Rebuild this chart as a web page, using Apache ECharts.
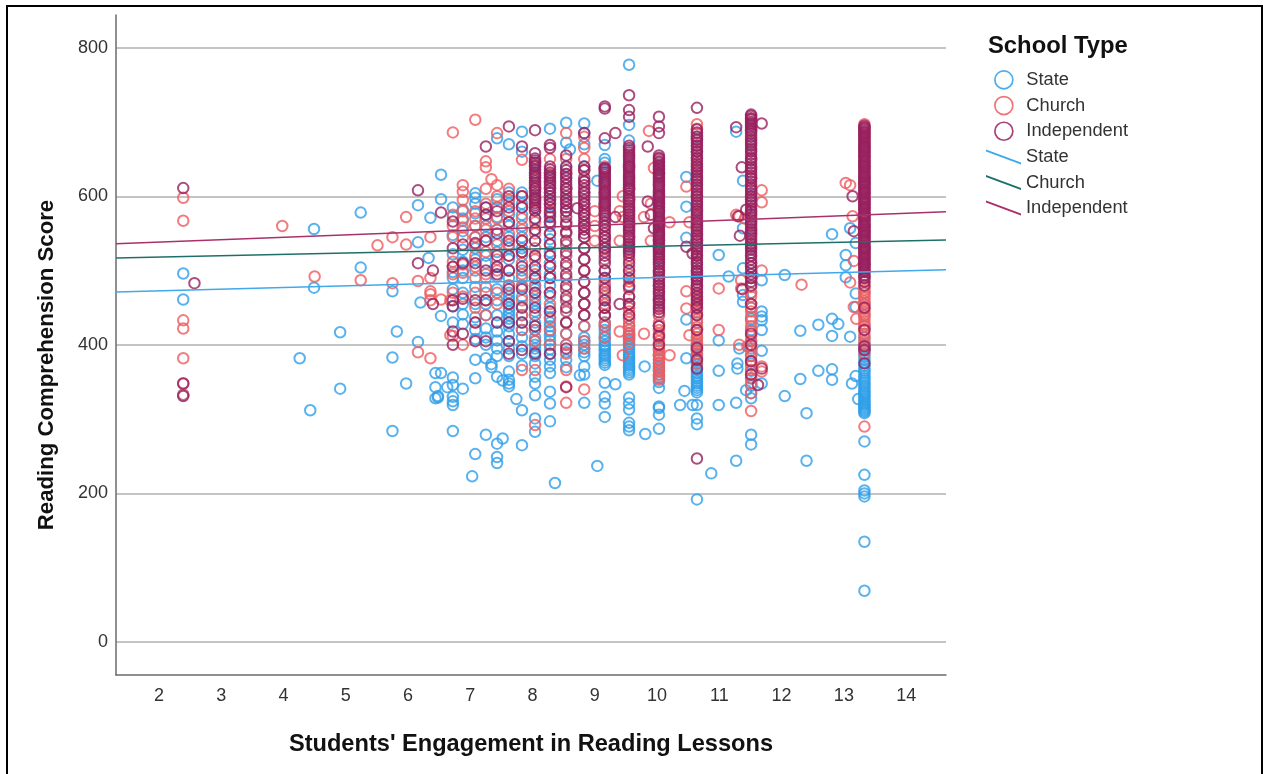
<!DOCTYPE html>
<html><head><meta charset="utf-8">
<script src="https://cdn.jsdelivr.net/npm/echarts@6/dist/echarts.min.js"></script>
<style>html,body{margin:0;padding:0;background:#fff}#c{width:1263px;height:774px}</style></head>
<body><div id="c"></div>
<script>
const yTicks=[0,200,400,600,800];
const xTicks=[2,3,4,5,6,7,8,9,10,11,12,13,14];
const lineXs=[1.31,14.64];
const stateLineY=[471,501];
const churchLineY=[517,541];
const independentLineY=[536,579];

const stateCols=[
[2.39,[496,461,333]],[4.26,[382]],[4.43,[312]],[4.49,[556,477]],[4.91,[417,341]],[5.24,[578,504]],[5.75,[472,383,284]],[5.82,[418]],[5.97,[348]],
[6.16,[588,538,404]],[6.2,[457]],[6.36,[571]],[6.33,[517]],[6.53,[629,596,439,362]],[6.63,[343]],[6.48,[329,331]],[6.44,[362,343,328]],
[6.72,[585,573,548,522,498,490,475,452,430,356,346,330,324,319,284]],
[6.88,[582,570,553,528,512,500,490,470,455,441,428,341]],
[7.08,[604,598,590,577,560,545,530,515,500,478,455,437,420,408,380,355,253]],[7.03,[223]],
[7.25,[585,575,560,545,520,510,490,470,455,440,422,410,400,382,279]],
[7.43,[678,596,585,572,555,540,525,505,492,475,460,440,430,418,406,395,385,357,267,249,241]],[7.52,[352,274]],[7.34,[374,370]],
[7.62,[670,605,590,575,560,545,530,515,500,490,480,470,465,460,455,450,445,440,435,430,425,415,405,395,385,364,353,348,344]],
[7.83,[687,660,605,590,575,560,545,530,520,500,490,478,465,452,440,430,420,410,398,388,372,312,265]],[7.74,[327]],
[8.04,[645,630,612,598,585,570,555,540,520,505,500,490,480,475,470,460,455,445,440,430,425,420,410,405,400,395,390,385,375,357,348,332,301,283]],
[8.28,[691,625,605,590,575,560,542,525,510,495,480,465,450,445,437,430,425,418,412,406,400,394,388,380,371,362,337,321,297]],[8.36,[214]],
[8.54,[699,672,640,625,610,590,580,565,550,535,520,505,490,475,460,445,430,415,400,390,380,370]],[8.6,[663]],[8.76,[359]],
[8.83,[698,685,670,640,620,605,590,575,560,545,530,515,500,470,455,440,425,410,405,400,395,390,385,371,360,322]],[9.04,[621]],[9.04,[237]],
[9.16,[669,650,645,632,620,605,590,575,560,545,530,515,500,490,480,470,460,450,440,430,425,420,415,410,405,400,398,395,392,388,385,382,379,376,373,349,330,321,303]],[9.33,[347]],
[9.55,[777,696,675,640,620,610,595,580,560,545,530,515,500,480,465,450,435,425,415,412,408,405,400,397,394,390,387,384,381,378,375,372,369,366,363,360,329,321,313,295,290,285]],[9.81,[280]],[9.8,[371]],
[10.03,[640,625,600,585,565,548,530,515,498,480,460,440,425,410,395,385,380,375,370,365,360,355,350,342,317,315,306,287]],[10.44,[338]],[10.37,[319]],
[10.47,[626,586,544,382,434]],[10.57,[319]],
[10.64,[680,660,640,622,600,580,560,540,520,500,490,480,465,450,440,430,420,410,400,395,392,388,385,381,378,374,370,366,362,358,355,351,348,345,342,339,336,319,301,293,192]],
[10.87,[227]],[10.99,[521,406,365,319]],[11.15,[492]],[11.27,[687,322,244]],[11.29,[375,368]],[11.32,[395]],[11.38,[621,557,503,467,458]],[11.43,[339]],
[11.51,[690,670,650,625,600,575,555,530,510,490,470,450,435,420,405,395,385,375,365,355,345,335,328,279,266]],
[11.68,[487,445,438,433,420,392,348]],[12.05,[494,331]],[12.3,[419,354]],[12.4,[308,244]],[12.59,[427,365]],[12.81,[549,435,412,367,353]],[12.91,[428]],
[13.03,[521,507,491]],[13.1,[557,411]],[13.13,[348]],[13.19,[537,469,451,358]],[13.23,[327]],
[13.33,[625,610,590,575,560,545,530,510,490,470,455,440,425,410,402,398,395,392,388,384,380,376,372,368,365,362,358,355,352,349,346,343,340,337,335,332,330,327,325,322,320,318,316,314,312,310,308,270,225,204,200,196,135,69]]
];
const churchCols=[
[2.39,[598,567,433,422,382,348,333]],[3.98,[560]],[4.5,[492]],[5.24,[487]],[5.51,[534]],[5.75,[545,483]],[5.97,[572,535]],[6.16,[486,390]],
[6.36,[545,490,472,468,460,382]],[6.53,[461]],[6.68,[413,460]],
[6.72,[686,575,560,545,512,505,495,470,412]],
[6.88,[615,606,595,580,567,558,545,508,497,465,400]],
[7.08,[703,580,570,560,545,535,520,505,490,470,450,430]],
[7.25,[647,639,610,590,570,555,540,525,495,478,460,440]],[7.34,[623]],
[7.43,[685,615,600,585,570,555,535,515,500,470,455]],
[7.62,[610,595,580,565,550,535,520,500,480,455]],
[7.83,[649,600,585,570,555,540,525,510,495,480,460,440,420,366]],
[8.04,[640,625,610,595,580,565,550,530,515,495,480,465,440,420,405,366,292]],
[8.28,[650,630,610,595,580,565,550,535,520,505,490,470,455,435,420,400]],
[8.54,[685,650,630,610,595,580,565,550,535,520,505,490,475,460,445,430,415,400,388,366,344,322]],
[8.83,[680,665,650,635,620,605,590,575,560,545,530,515,500,485,470,455,440,425,405,395,340]],
[9.0,[560,580,540]],[9.16,[640,620,605,590,575,560,545,530,515,500,485,480,470,465,455,450,440,430,425,410]],[9.4,[580,540,418]],[9.45,[386,572,600]],
[9.55,[640,625,610,595,585,575,565,555,545,535,525,515,505,495,485,475,465,455,450,445,440,435,430,425,420,416,412,408,402]],[9.87,[688]],[9.95,[638]],[9.79,[572,415]],[9.9,[590,540]],
[10.03,[630,615,600,590,580,570,560,550,540,530,520,510,500,490,480,470,460,450,440,430,426,420,415,410,405,400,396,392,388,385,380,376,372,368,364,360,357,353]],[10.2,[565,386]],[10.47,[613,472,449]],[10.52,[413,565]],
[10.64,[697,691,684,676,668,660,651,642,634,625,616,608,600,590,582,574,565,556,548,540,530,520,510,498,488,478,468,462,458,452,448,444,440,434,430,424,420,415,410,405,402,398,395,392,388,382,375]],
[10.99,[476,420]],[11.27,[575]],[11.35,[487,476]],[11.32,[400,573]],[11.41,[570]],[11.45,[398]],
[11.51,[704,697,688,675,662,650,638,625,610,595,580,565,550,535,520,505,490,478,470,465,455,450,445,438,432,425,418,412,405,398,392,385,378,372,366,360,355,348,335,311]],
[11.68,[608,592,500,371,364]],[12.32,[481]],[13.03,[618]],[13.1,[484,615]],[13.14,[573]],[13.16,[513,451]],[13.2,[435]],
[13.33,[697,692,686,680,673,666,660,653,646,640,632,625,618,610,604,597,590,583,575,568,560,552,545,538,530,523,515,508,500,492,485,478,474,470,466,463,459,455,451,448,444,440,436,432,428,425,420,415,410,405,400,394,388,290]]
];
const independentCols=[
[2.39,[611,348,331]],[2.57,[483]],[6.16,[608,510]],[6.53,[578]],[6.4,[500,455]],
[6.72,[566,530,505,460,452,418,400]],[6.88,[535,510,462,415]],
[7.08,[537,510,460,430,405]],[7.25,[667,585,575,540,500,460,405]],
[7.43,[580,550,520,505,495,430]],[7.62,[694,600,585,565,540,520,500,475,455,430,405,388]],
[7.83,[667,600,585,540,525,505,475,450,430,393]],
[8.04,[689,658,651,648,645,642,640,636,632,628,625,621,618,614,610,606,602,598,595,591,588,585,581,570,555,540,520,505,490,470,450,425,388]],
[8.28,[669,665,640,636,632,628,625,621,618,614,610,605,600,595,590,585,578,572,565,550,535,520,505,490,470,445,388]],
[8.54,[655,640,635,630,625,620,615,610,605,600,595,590,585,580,572,562,552,540,525,510,495,480,465,450,430,395,343]],
[8.72,[584]],
[8.83,[685,640,635,625,620,615,610,605,600,595,590,585,580,575,570,565,560,555,550,545,530,515,500,485,470,455,440]],
[9.16,[721,718,678,638,637,635,632,629,626,623,620,617,614,611,608,605,602,599,596,593,590,587,584,581,578,574,570,565,560,555,550,545,540,535,530,525,520,510,500,490,475,460,450,440]],[9.33,[685]],[9.33,[572]],[9.4,[455]],
[9.55,[736,716,707,668,665,662,659,656,653,650,647,644,641,638,635,632,629,626,623,620,617,614,611,608,604,600,596,592,588,584,580,576,572,568,564,560,556,552,548,544,540,536,532,528,524,520,510,500,490,478,465,455,440]],
[9.85,[667,593]],[9.9,[575]],[9.95,[557]],
[10.03,[707,694,685,655,652,650,647,645,642,640,637,635,632,630,627,624,621,618,615,612,609,606,603,600,597,594,591,588,585,582,579,576,573,570,567,564,561,558,555,552,549,546,543,540,537,534,531,528,525,522,519,516,512,508,504,500,496,492,488,484,480,476,472,468,464,460,456,452,448,444,425,412,400]],
[10.47,[532]],[10.57,[523]],
[10.64,[719,690,686,680,676,672,668,664,660,656,652,648,644,640,636,632,628,624,620,616,612,608,604,600,596,592,588,584,580,576,572,568,564,560,556,552,548,544,540,536,532,528,524,520,516,512,508,504,500,496,492,488,484,480,475,470,465,460,455,450,440,420,396,380,368,247]],
[11.27,[693]],[11.36,[639]],[11.3,[573]],[11.43,[582]],[11.33,[547]],[11.37,[475]],[11.62,[346]],[11.68,[698,368]],
[11.51,[710,708,705,703,700,698,695,692,688,684,680,676,672,668,664,660,656,652,648,644,640,636,632,628,624,620,616,612,608,604,600,596,592,588,584,580,576,572,568,564,560,556,552,548,544,540,536,532,528,524,520,515,510,505,500,495,490,485,480,455,415,400,378,360]],
[13.14,[600]],[13.16,[553]],
[13.33,[695,693,691,689,687,685,683,681,679,677,675,672,670,668,666,664,662,660,657,655,653,650,648,646,644,642,640,638,636,634,631,629,627,625,622,620,618,616,614,612,609,607,605,603,600,598,596,594,592,590,587,585,583,581,578,576,574,572,570,568,565,563,561,559,556,554,552,550,548,546,543,541,539,537,534,532,530,528,526,524,521,519,517,515,512,510,508,506,504,502,500,498,494,490,485,480,450,420,398,393,375]]
];

const C={state:'#2f9fe9',church:'#ef5b5f',ind:'#97215f'};
const LC={state:'#3fa9ec',church:'#1f6f68',ind:'#a9316b'};
const FONT='"Liberation Sans",Arial,sans-serif';
function flat(cols){const out=[];cols.forEach(c=>c[1].forEach(y=>out.push([c[0],y])));return out;}
function scat(name,cols,color){return {name,type:'scatter',data:flat(cols),symbol:'circle',symbolSize:10.5,silent:true,
  itemStyle:{color:'rgba(255,255,255,0)',borderColor:color,borderWidth:2,opacity:0.8}};}
function fit(name,ys,color){return {name,type:'line',data:lineXs.map((x,i)=>[x,ys[i]]),showSymbol:false,silent:true,z:5,
  lineStyle:{color,width:1.5},itemStyle:{color}};}
const ring=c=>({color:'rgba(255,255,255,0)',borderColor:c,borderWidth:1.7,opacity:0.85});
const slant='path://M0,0 L35,13 L35,15 L0,2 Z';
const chart=echarts.init(document.getElementById('c'),null,{renderer:'canvas'});
chart.setOption({
 animation:false,backgroundColor:'#fff',
 grid:{left:116,top:15,right:317,bottom:99},
 title:{text:'School Type',left:983,top:29,textStyle:{fontFamily:FONT,fontSize:23.8,fontWeight:'bold',color:'#111'}},
 legend:[
  {orient:'vertical',left:989,top:65,itemWidth:35,itemHeight:18,itemGap:6,selectedMode:false,
   textStyle:{fontFamily:FONT,fontSize:18.3,color:'#333'},
   data:[{name:'State',icon:'circle',itemStyle:ring(C.state)},{name:'Church',icon:'circle',itemStyle:ring(C.church)},{name:'Independent',icon:'circle',itemStyle:ring(C.ind)}]},
  {orient:'vertical',left:981,top:143,itemWidth:35,itemHeight:18,itemGap:7.5,selectedMode:false,
   formatter:n=>n.replace(' fit',''),
   textStyle:{fontFamily:FONT,fontSize:18.3,color:'#333'},
   data:[{name:'State fit',icon:slant,itemStyle:{color:LC.state}},{name:'Church fit',icon:slant,itemStyle:{color:LC.church}},{name:'Independent fit',icon:slant,itemStyle:{color:LC.ind}}]}
 ],
 xAxis:{type:'value',min:lineXs[0],max:lineXs[1],splitLine:{show:false},
  axisLine:{onZero:false,lineStyle:{color:'#6b6b6b',width:1.5}},axisTick:{show:false,customValues:xTicks},
  axisLabel:{fontFamily:FONT,fontSize:18,color:'#333',margin:12,customValues:xTicks},
  name:"Students' Engagement in Reading Lessons",nameLocation:'middle',nameGap:57,
  nameTextStyle:{fontFamily:FONT,fontSize:23.6,fontWeight:'bold',color:'#111'}},
 yAxis:{type:'value',min:-44.4,max:844,
  splitLine:{show:true,lineStyle:{color:'#c4c4c4',width:2}},
  axisLine:{onZero:false,show:true,lineStyle:{color:'#6b6b6b',width:1.5}},axisTick:{show:false,customValues:yTicks},
  axisLabel:{fontFamily:FONT,fontSize:18,color:'#333',margin:8,customValues:yTicks},
  name:'Reading Comprehension Score',nameLocation:'middle',nameGap:58,nameRotate:90,
  nameTextStyle:{fontFamily:FONT,fontSize:22.2,fontWeight:'bold',color:'#111',padding:[0,40,0,0]}},
 series:[scat('State',stateCols,C.state),scat('Church',churchCols,C.church),scat('Independent',independentCols,C.ind),
  fit('State fit',stateLineY,LC.state),fit('Church fit',churchLineY,LC.church),fit('Independent fit',independentLineY,LC.ind)],
 graphic:[{type:'rect',silent:true,z:100,shape:{x:7,y:6,width:1255,height:800},style:{fill:'none',stroke:'#000',lineWidth:2}}]
});
</script></body></html>
